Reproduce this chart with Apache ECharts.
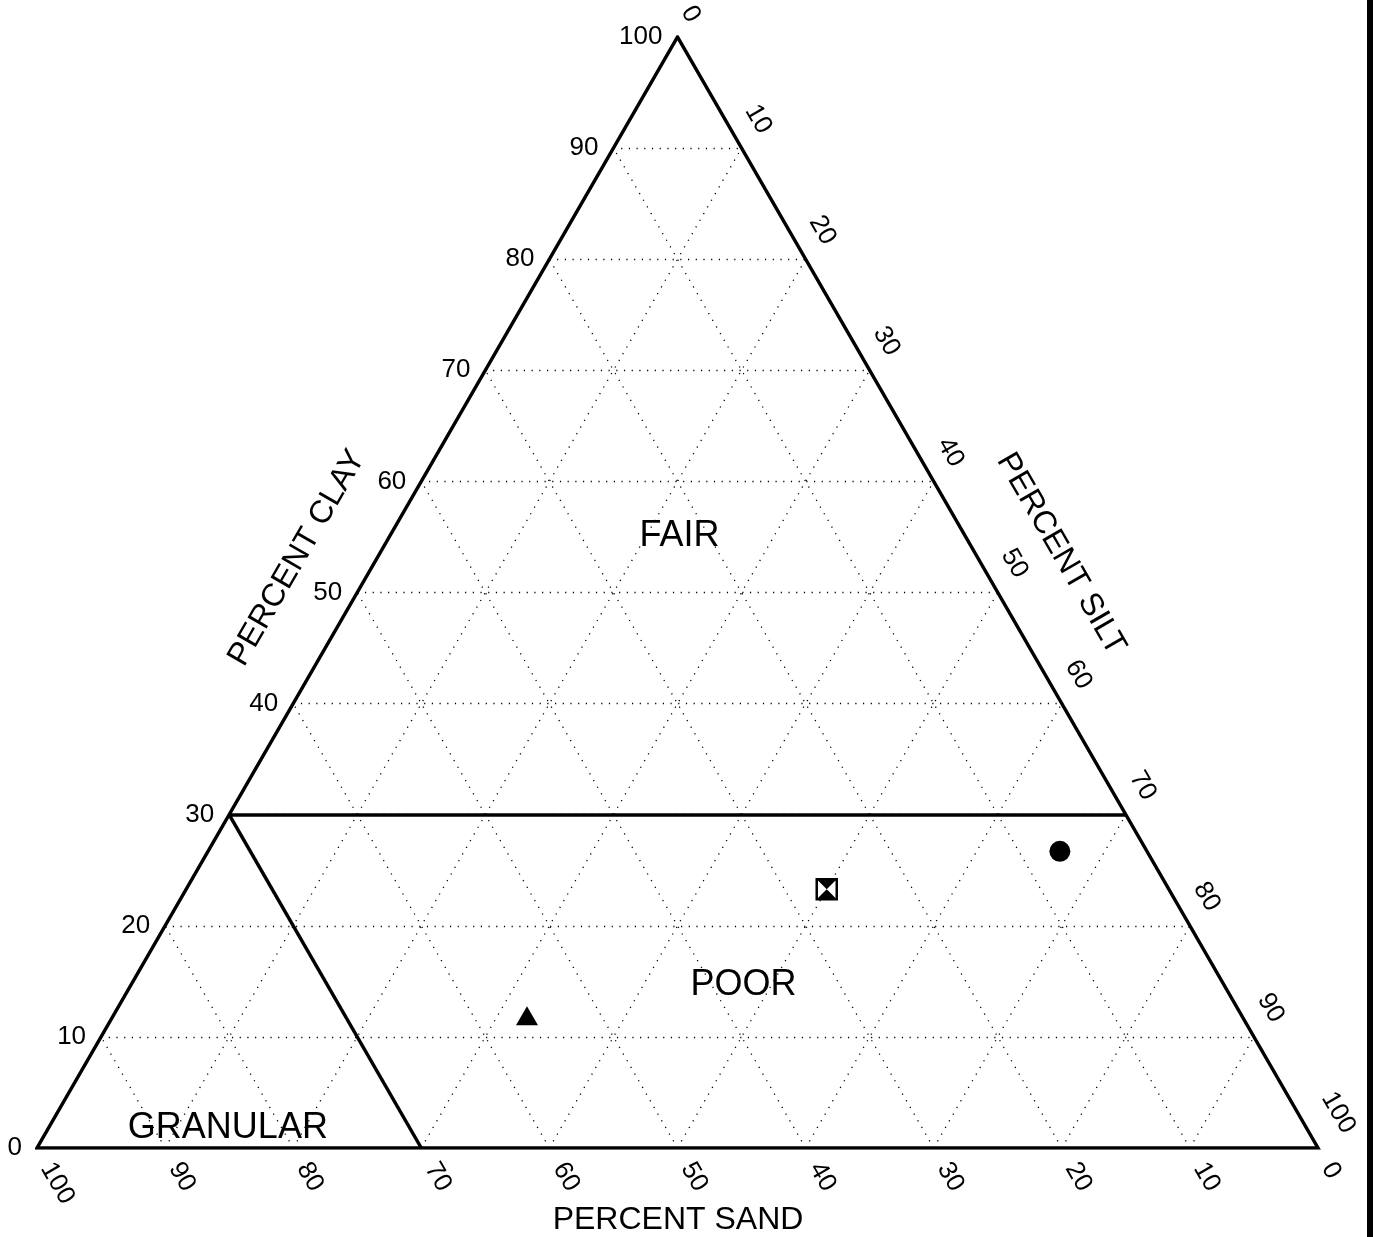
<!DOCTYPE html>
<html><head><meta charset="utf-8">
<script src="https://cdn.jsdelivr.net/npm/echarts@6/dist/echarts.min.js"></script>
<style>html,body{margin:0;padding:0;background:#fff}#c{width:1374px;height:1237px}</style>
</head><body><div id="c"></div><script>
// ---- data ----
const tickValues = [0,10,20,30,40,50,60,70,80,90,100];
const tickLabels = ['0','10','20','30','40','50','60','70','80','90','100'];
const pointClay = [26.7, 23.3, 11.9];
const pointSilt = [66.5, 50.0, 32.3];
const pointSand = [6.8, 26.7, 55.8];
const regionNames = ['FAIR','POOR','GRANULAR'];
const regionClay = [55.1, 14.7, 1.8];
const regionSilt = [22.6, 47.8, 14.0];
const boundaryClay = 30;   // FAIR / POOR boundary
const boundarySand = 70;   // GRANULAR boundary
const axisTitles = ['PERCENT CLAY','PERCENT SILT','PERCENT SAND'];

// ternary -> cartesian (x along base, y = clay)
function tc(clay, silt){ return [silt + clay/2, clay]; }

const FONT = '"Liberation Sans", Arial, Helvetica, sans-serif';
const chart = echarts.init(document.getElementById('c'), null, {renderer:'canvas'});

const gridLines = [];
tickValues.forEach(k=>{
  if(k<=0||k>=100) return;
  gridLines.push({coords:[tc(k,0), tc(k,100-k)]});          // clay = k
  gridLines.push({coords:[tc(0,100-k), tc(100-k,0)]});      // sand = k
  gridLines.push({coords:[tc(0,k), tc(100-k,k)]});          // silt = k
});
const frame = [{coords:[tc(0,0), tc(0,100), tc(100,0), tc(0,0), tc(0,100)]}];
const bounds = [
  {coords:[tc(boundaryClay,0), tc(boundaryClay,100-boundaryClay)]},
  {coords:[tc(0,100-boundarySand), tc(100-boundarySand,0)]}
];

const P = i => tc(pointClay[i], pointSilt[i]);

chart.setOption({
  animation:false,
  backgroundColor:'#fff',
  grid:{left:37, top:37, width:1281, height:1111},
  xAxis:{type:'value', min:0, max:100, show:false},
  yAxis:{type:'value', min:0, max:100, show:false},
  series:[
    {type:'lines', coordinateSystem:'cartesian2d', polyline:false, silent:true, z:1,
     lineStyle:{color:'#000', width:1.3, type:[1.2,6.5], opacity:1}, data:gridLines},
    {type:'lines', coordinateSystem:'cartesian2d', polyline:false, silent:true, z:2,
     lineStyle:{color:'#000', width:3.5, opacity:1}, data:bounds},
    {type:'lines', coordinateSystem:'cartesian2d', polyline:true, silent:true, z:3,
     lineStyle:{color:'#000', width:3.5, opacity:1, join:'miter', miterLimit:10}, data:frame},
    {type:'scatter', z:5, symbol:'circle', symbolSize:21, itemStyle:{color:'#000', opacity:1}, data:[P(0)]},
    {type:'scatter', z:5, symbol:'rect', symbolSize:20, itemStyle:{color:'#fff', borderColor:'#000', borderWidth:2.5, opacity:1}, data:[P(1)]},
    {type:'scatter', z:6, symbol:'path://M0,0L20,0L10,10L20,20L0,20L10,10Z', symbolSize:20, itemStyle:{color:'#000', opacity:1}, data:[P(1)]},
    {type:'scatter', z:5, symbol:'triangle', symbolSize:[22,19], itemStyle:{color:'#000', opacity:1}, data:[P(2)]}
  ]
});

function px(pt){ return chart.convertToPixel({gridIndex:0}, pt); }
const g = [];
const tickFont = {fontSize:26, fontFamily:FONT, fill:'#000'};
const S3 = Math.sqrt(3)/2;
tickValues.forEach((v,i)=>{
  const lab = tickLabels[i];
  const w = lab.length*14.5;
  const a = px(tc(v, 0));              // clay labels, left edge
  g.push({type:'text', x:a[0]-15, y:a[1], style:Object.assign({text:lab, textAlign:'right', textVerticalAlign:'middle'}, tickFont)});
  const b = px(tc(100-v, v));          // silt labels, right edge
  const ds = 19 + w/2;
  g.push({type:'text', x:b[0]+ds*0.5, y:b[1]-ds*S3, rotation:-Math.PI/3,
    style:Object.assign({text:lab, textAlign:'center', textVerticalAlign:'middle'}, tickFont)});
  const c = px(tc(0, 100-v));          // sand labels, bottom edge
  const dd = 19 + w/2;
  g.push({type:'text', x:c[0]+dd*0.5, y:c[1]+dd*S3, rotation:-Math.PI/3,
    style:Object.assign({text:lab, textAlign:'center', textVerticalAlign:'middle'}, tickFont)});
});
const titleFont = {fontSize:32, fontFamily:FONT, fill:'#000'};
g.push({type:'text', x:297, y:558, rotation:Math.PI/3, style:Object.assign({text:axisTitles[0], textAlign:'center', textVerticalAlign:'middle'}, titleFont)});
g.push({type:'text', x:1061, y:554, rotation:-Math.PI/3, style:Object.assign({text:axisTitles[1], textAlign:'center', textVerticalAlign:'middle'}, titleFont)});
g.push({type:'text', x:678, y:1220, style:Object.assign({text:axisTitles[2], textAlign:'center', textVerticalAlign:'middle'}, titleFont)});
regionNames.forEach((n,i)=>{
  const p = px(tc(regionClay[i], regionSilt[i]));
  g.push({type:'text', x:p[0], y:p[1], z:10, style:{text:n, textAlign:'center', textVerticalAlign:'middle', fontSize:36, fontFamily:FONT, fill:'#000'}});
});
g.push({type:'rect', shape:{x:1367, y:0, width:6, height:1237}, style:{fill:'#000'}});
chart.setOption({graphic:g});
</script></body></html>
